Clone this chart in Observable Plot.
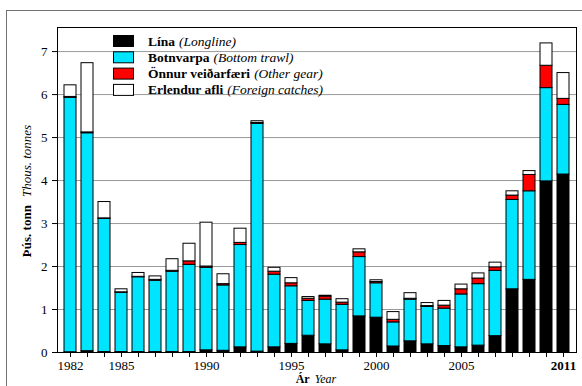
<!DOCTYPE html>
<html><head><meta charset="utf-8">
<script src="https://cdn.jsdelivr.net/npm/d3@7"></script>
<script src="https://cdn.jsdelivr.net/npm/@observablehq/plot@0.6"></script>
<style>body{margin:0;background:#fff;} #chart{position:relative;width:582px;height:386px;overflow:hidden}</style>
</head><body><div id="chart"></div>
<script>
const years = [1982,1983,1984,1985,1986,1987,1988,1989,1990,1991,1992,1993,1994,1995,1996,1997,1998,1999,2000,2001,2002,2003,2004,2005,2006,2007,2008,2009,2010,2011];
const lina      = [0.005,0.03,0.01,0.01,0.01,0.01,0.01,0.01,0.05,0.04,0.12,0.02,0.12,0.20,0.39,0.19,0.05,0.84,0.81,0.14,0.26,0.19,0.15,0.12,0.16,0.38,1.47,1.69,3.98,4.14];
const botnvarpa = [5.92,5.07,3.10,1.38,1.74,1.66,1.87,2.03,1.92,1.52,2.38,5.30,1.69,1.34,0.81,1.04,1.06,1.38,0.80,0.56,0.97,0.87,0.87,1.23,1.43,1.52,2.08,2.06,2.17,1.62];
const onnur     = [0.02,0.02,0.01,0.01,0.01,0.02,0.02,0.08,0.03,0.03,0.05,0.02,0.07,0.07,0.05,0.07,0.05,0.11,0.03,0.06,0.02,0.02,0.07,0.12,0.13,0.08,0.10,0.38,0.52,0.14];
const erlendur  = [0.27,1.61,0.38,0.07,0.09,0.08,0.27,0.41,1.02,0.23,0.33,0.04,0.09,0.12,0.04,0.02,0.08,0.07,0.04,0.18,0.13,0.07,0.11,0.11,0.12,0.11,0.10,0.09,0.52,0.60];

const seriesKeys = ["Lína","Botnvarpa","Önnur veiðarfæri","Erlendur afli"];
const seriesEnglish = ["(Longline)","(Bottom trawl)","(Other gear)","(Foreign catches)"];
const seriesValues = [lina, botnvarpa, onnur, erlendur];
const seriesColors = ["#000000","#00e5ff","#ff0000","#ffffff"];
const yTicks = [0,1,2,3,4,5,6,7];
const labeledYears = [1982,1985,1990,1995,2000,2005];
const boldYears = [2011];

const data = [];
seriesKeys.forEach((k, si) => years.forEach((y, i) => data.push({year: y, series: k, value: seriesValues[si][i]})));

const font = "Liberation Serif, Times New Roman, serif";

const plot = Plot.plot({
  width: 582, height: 386,
  marginTop: 27, marginBottom: 34, marginLeft: 57, marginRight: 6,
  style: {fontFamily: font, fontSize: "13px", background: "white", color: "#000"},
  x: {type: "band", domain: years, paddingInner: 0.32, paddingOuter: 0.16, insetLeft: 2.7, insetRight: 2.4},
  y: {domain: [0, 7.56]},
  color: {domain: seriesKeys, range: seriesColors},
  marks: [
    Plot.gridY(yTicks.filter(d => d > 0), {stroke: "#9a9a9a", strokeOpacity: 1}),
    Plot.barY(data, {x: "year", y: "value", fill: "series", stroke: "#000", strokeWidth: 1, order: seriesKeys}),
    Plot.frame({stroke: "#000"}),
    Plot.axisY(yTicks, {tickSize: 5, tickPadding: 5, label: null, fontSize: 13, fontFamily: font, tickFormat: d => String(d)}),
    Plot.axisX(years, {tickSize: 5, tickPadding: 3, label: null, fontSize: 13, fontFamily: font, tickFormat: d => labeledYears.includes(d) ? String(d) : ""}),
    Plot.axisX(boldYears, {tickSize: 0, tickPadding: 8, label: null, fontSize: 13, fontFamily: font, fontWeight: "bold", tickFormat: d => String(d)})
  ]
});
document.getElementById("chart").appendChild(plot);

const svg = d3.select(plot);
// outer border
svg.insert("rect", ":first-child")
  .attr("x", 6.5).attr("y", 10.5).attr("width", 700).attr("height", 500)
  .attr("fill", "none").attr("stroke", "#707070").attr("stroke-width", 1);

// y label
const yl = svg.append("text")
  .attr("transform", "translate(31,191) rotate(-90)")
  .attr("text-anchor", "middle").attr("font-family", font).attr("font-size", 13).attr("fill", "#000");
yl.append("tspan").attr("font-weight", "bold").text("Þús. tonn");
yl.append("tspan").attr("font-style", "italic").attr("dx", 8).text("Thous. tonnes");

// x label
const xl = svg.append("text")
  .attr("x", 316).attr("y", 383.3)
  .attr("text-anchor", "middle").attr("font-family", font).attr("font-size", 12).attr("fill", "#000");
xl.append("tspan").attr("font-weight", "bold").text("Ár");
xl.append("tspan").attr("font-style", "italic").attr("dx", 5).text("Year");

// legend
const lg = svg.append("g").attr("font-family", font).attr("font-size", 13.5).attr("text-anchor", "start");
seriesKeys.forEach((k, i) => {
  const cy = 41 + 16.3 * i;
  lg.append("rect").attr("x", 113.5).attr("y", cy - 5.5).attr("width", 20).attr("height", 11)
    .attr("fill", seriesColors[i]).attr("stroke", "#000");
  const t = lg.append("text").attr("x", 148).attr("y", cy + 4.5).attr("fill", "#000").attr("text-anchor", "start");
  t.append("tspan").attr("font-weight", "bold").text(k);
  t.append("tspan").attr("font-style", "italic").attr("dx", 4).text(seriesEnglish[i]);
});
</script>
</body></html>
